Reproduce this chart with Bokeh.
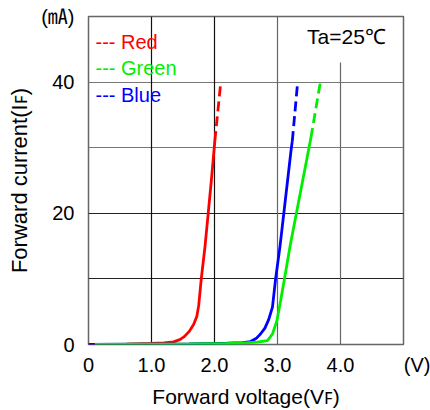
from bokeh.plotting import figure
from bokeh.models import Range1d, FixedTicker, Grid, Label
from bokeh.embed import file_html
from bokeh.resources import INLINE

# ---- data ----
red_v = [0.0, 0.6, 1.0, 1.2, 1.35, 1.45, 1.52, 1.60, 1.67, 1.72, 1.75, 1.79, 1.85, 1.90, 1.95, 2.005]
red_i = [0.0, 0.05, 0.15, 0.25, 0.4, 0.75, 1.2, 2.0, 3.1, 4.3, 6.0, 10.0, 15.0, 20.0, 25.0, 31.0]
red_dash_v = [2.005, 2.10]
red_dash_i = [31.0, 40.0]

blue_v = [0.0, 0.8, 1.6, 2.2, 2.45, 2.57, 2.66, 2.73, 2.80, 2.86, 2.92, 2.97, 3.04, 3.10, 3.16, 3.22, 3.235]
blue_i = [0.0, 0.05, 0.1, 0.2, 0.3, 0.45, 0.9, 1.6, 2.5, 3.8, 5.7, 10.0, 15.0, 20.0, 25.0, 30.0, 31.0]
blue_dash_v = [3.235, 3.32]
blue_dash_i = [31.0, 40.0]

green_v = [0.1, 0.8, 1.6, 2.2, 2.41, 2.68, 2.84, 2.92, 2.99, 3.05, 3.11, 3.20, 3.30, 3.40, 3.50, 3.53]
green_i = [0.0, 0.05, 0.1, 0.15, 0.2, 0.35, 0.6, 1.6, 3.6, 6.7, 10.0, 15.0, 20.0, 25.0, 30.0, 31.5]
green_dash_v = [3.53, 3.68]
green_dash_i = [31.5, 40.0]

x_ticks = [0, 1, 2, 3, 4, 5]
x_tick_labels = ["0", "1.0", "2.0", "3.0", "4.0", "\u00a0" * 5 + "(V)"]
y_ticks = [0, 20, 40, 50]
y_tick_labels = ["0", "20", "40", "(\u3383)"]
y_grid_dark = [10, 20]
y_grid_gray = [30, 40]
x_grid_dark = [1, 2]
x_grid_gray = [3]
x_grid_partial = [4]
x_grid_partial_top = [43]

x_title = "Forward voltage(V\ua730)"
y_title = "Forward current(I\ua730)"

FONT = "'Liberation Sans', 'Noto Sans', 'DejaVu Sans', 'Noto Sans CJK JP'"
RED, GREEN, BLUE = "#ff0000", "#00ee00", "#0000ff"

p = figure(width=430, height=410, frame_width=315, frame_height=328,
           min_border_left=88, min_border_right=27,
           min_border_top=16, min_border_bottom=66,
           x_range=Range1d(0, 5), y_range=Range1d(0, 50),
           output_backend="svg", toolbar_location=None,
           background_fill_color="white", border_fill_color="white")

p.outline_line_color = "#666666"
p.outline_line_width = 1.5
p.grid.visible = False

# grids
for ticks, dim, col in [(y_grid_dark, 1, "#222222"), (y_grid_gray, 1, "#777777"),
                        (x_grid_dark, 0, "#111111"), (x_grid_gray, 0, "#666666")]:
    g = Grid(dimension=dim, ticker=FixedTicker(ticks=ticks),
             grid_line_color=col, grid_line_width=1.2)
    p.add_layout(g)
p.segment(x0=x_grid_partial, y0=[0], x1=x_grid_partial, y1=x_grid_partial_top,
          line_color="#666666", line_width=1.2)

# axes
xa = p.xaxis[0]
xa.ticker = FixedTicker(ticks=x_ticks)
xa.major_label_overrides = {t: s for t, s in zip(x_ticks, x_tick_labels)}
ya = p.yaxis[0]
ya.ticker = FixedTicker(ticks=y_ticks)
ya.major_label_overrides = {t: s for t, s in zip(y_ticks, y_tick_labels)}
for ax in (xa, ya):
    ax.axis_line_color = None
    ax.major_tick_line_color = None
    ax.minor_tick_line_color = None
    ax.major_label_text_font = FONT
    ax.major_label_text_font_size = "20px"
    ax.major_label_text_color = "black"
    ax.axis_label_text_font = FONT
    ax.axis_label_text_font_style = "normal"
    ax.axis_label_text_color = "black"
xa.major_label_standoff = 3
ya.major_label_standoff = 8
xa.axis_label = x_title
xa.axis_label_text_font_size = "21px"
xa.axis_label_standoff = 6
ya.axis_label = y_title
ya.axis_label_text_font_size = "22px"
ya.axis_label_standoff = 6

# curves
p.line(red_v, red_i, line_color=RED, line_width=2.8)
p.line(red_dash_v, red_dash_i, line_color=RED, line_width=2.8, line_dash="10 5")
p.line(blue_v, blue_i, line_color=BLUE, line_width=2.8)
p.line(blue_dash_v, blue_dash_i, line_color=BLUE, line_width=2.8, line_dash="10 5")
p.line(green_v, green_i, line_color=GREEN, line_width=2.8)
p.line(green_dash_v, green_dash_i, line_color=GREEN, line_width=2.8, line_dash="10 5")

def lab(x, y, text, size, color="black", align="left", baseline="alphabetic"):
    p.add_layout(Label(x=x, y=y, text=text, text_font=FONT, text_font_size=size,
                       text_color=color, text_align=align, text_baseline=baseline))

# legend (text, as in the reference)
lab(0.111, 46.14, "--- Red", "20px", RED)
lab(0.111, 42.16, "--- Green", "20px", GREEN)
lab(0.111, 38.06, "--- Blue", "20px", BLUE)

# annotation
lab(3.47, 47.0, "Ta=25\u2103", "21px")

open("out.html", "w").write(file_html(p, INLINE))
